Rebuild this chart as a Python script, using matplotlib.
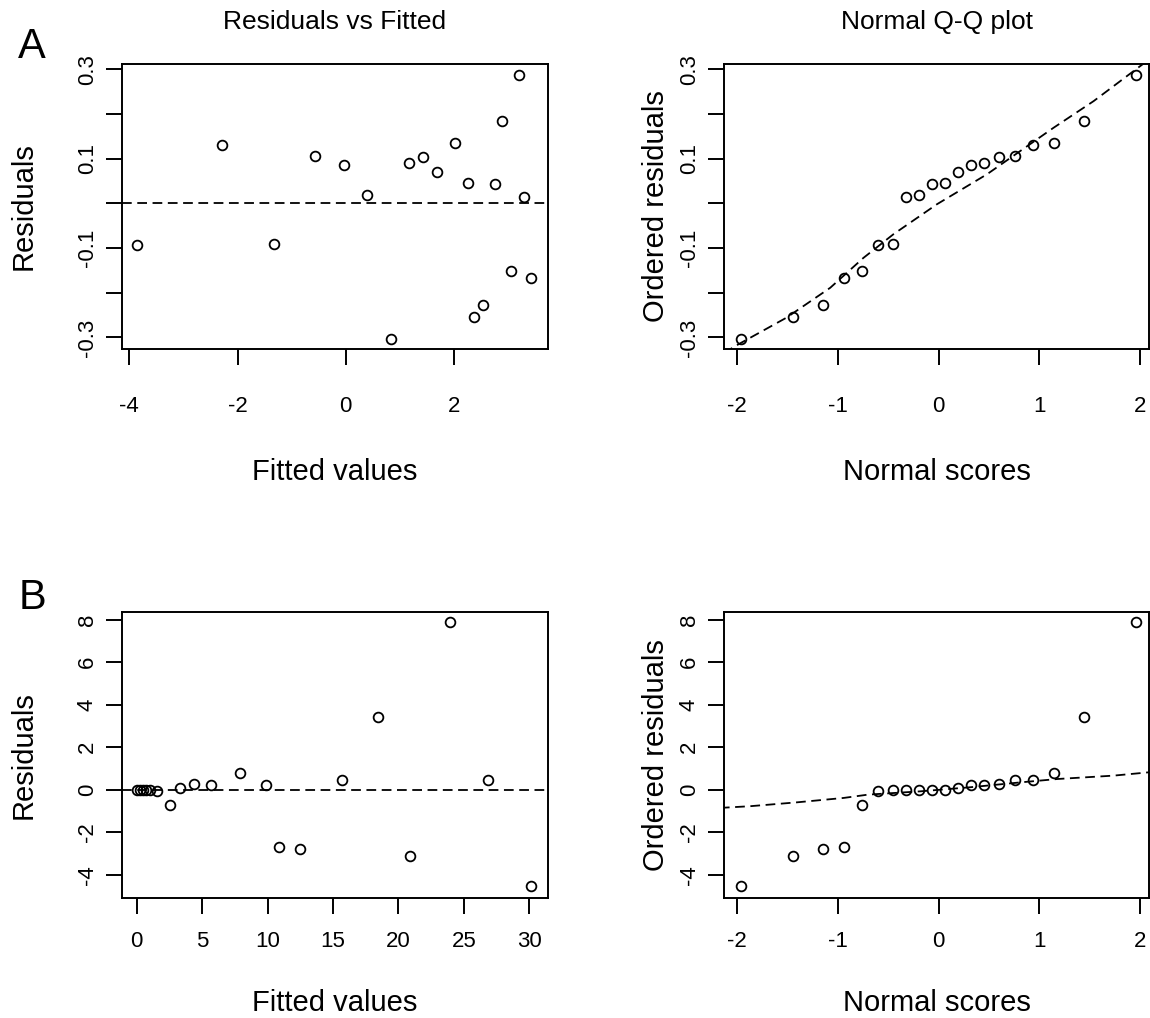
import matplotlib
matplotlib.use("Agg")
import matplotlib.pyplot as plt
import numpy as np

plt.rcParams["font.family"] = ["Liberation Sans", "DejaVu Sans"]
plt.rcParams["axes.unicode_minus"] = False
plt.rcParams["lines.scale_dashes"] = False

# panel A: residuals vs fitted
fitted_a = [-3.858, -2.287, -1.331, -0.562, -0.032, 0.399, 0.832, 1.164, 1.423, 1.693,
            2.026, 2.261, 2.366, 2.532, 2.760, 2.895, 3.061, 3.198, 3.296, 3.425]
resid_a = [-0.094, 0.130, -0.091, 0.107, 0.0865, 0.0186, -0.303, 0.091, 0.103, 0.0708,
           0.135, 0.046, -0.255, -0.228, 0.0425, 0.1835, -0.151, 0.288, 0.0141, -0.167]

# panel B: residuals vs fitted
fitted_b = [0.0, 0.25, 0.5, 0.75, 1.0, 1.58, 2.52, 3.31, 4.40, 5.68,
            7.87, 9.91, 10.9, 12.51, 15.72, 18.45, 20.92, 23.93, 26.83, 30.15]
resid_b = [0.0, 0.0, 0.0, 0.0, 0.0, -0.06, -0.74, 0.10, 0.27, 0.20,
           0.78, 0.20, -2.68, -2.78, 0.44, 3.40, -3.11, 7.89, 0.44, -4.55]

# normal scores for n = 20
normal_scores = [-1.960, -1.440, -1.150, -0.935, -0.755, -0.598, -0.454, -0.319, -0.189, -0.063,
                 0.063, 0.189, 0.319, 0.454, 0.598, 0.755, 0.935, 1.150, 1.440, 1.960]

# dashed reference curves on the Q-Q plots
ref_a_x = [-2.13, -1.99, -1.51, -1.075, -0.745, -0.447, -0.016, 0.48, 0.81, 1.14, 1.54, 2.0, 2.09]
ref_a_y = [-0.335, -0.316, -0.256, -0.189, -0.122, -0.069, -0.002, 0.065, 0.117, 0.169, 0.229, 0.307, 0.322]
ref_b_x = [-2.17, -1.87, -1.41, -0.94, -0.70, -0.18, 0.31, 0.81, 1.18, 1.74, 2.12]
ref_b_y = [-0.86, -0.78, -0.60, -0.39, -0.235, -0.08, 0.11, 0.34, 0.50, 0.66, 0.83]

W, H = 1150, 1018
fig = plt.figure(figsize=(W / 100, H / 100), dpi=100)


def box(l, t, r, b):
    return [l / W, 1 - b / H, (r - l) / W, (b - t) / H]


ax_a1 = fig.add_axes(box(122, 64, 548, 349))
ax_a2 = fig.add_axes(box(724, 64, 1149, 349))
ax_b1 = fig.add_axes(box(122, 612, 548, 898))
ax_b2 = fig.add_axes(box(724, 612, 1149, 898))

pt_style = dict(linestyle="none", marker="o", markersize=7, markerfacecolor="none",
                markeredgecolor="black", markeredgewidth=1.3)
dash_style = dict(color="black", linewidth=1.3, dashes=(7, 4))

ax_a1.plot(fitted_a, resid_a, **pt_style)
ax_a1.axhline(0, **dash_style)
ax_a2.plot(normal_scores, np.sort(resid_a), **pt_style)
ax_a2.plot(ref_a_x, ref_a_y, **dash_style)
ax_b1.plot(fitted_b, resid_b, **pt_style)
ax_b1.axhline(0, **dash_style)
ax_b2.plot(normal_scores, np.sort(resid_b), **pt_style)
ax_b2.plot(ref_b_x, ref_b_y, **dash_style)

a_yticks = [-0.3, -0.2, -0.1, 0.0, 0.1, 0.2, 0.3]
a_ylabels = ["-0.3", "", "-0.1", "", "0.1", "", "0.3"]
b_yticks = [-4, -2, 0, 2, 4, 6, 8]
b_ylabels = ["-4", "-2", "0", "2", "4", "6", "8"]
qq_xticks = [-2, -1, 0, 1, 2]

ax_a1.set_xlim(-4.135, 3.737)
ax_a1.set_xticks([-4, -2, 0, 2], ["-4", "-2", "0", "2"])
ax_b1.set_xlim(-1.12, 31.43)
ax_b1.set_xticks([0, 5, 10, 15, 20, 25, 30], ["0", "5", "10", "15", "20", "25", "30"])
for ax in (ax_a2, ax_b2):
    ax.set_xlim(-2.129, 2.089)
    ax.set_xticks(qq_xticks, [str(v) for v in qq_xticks])

for ax in (ax_a1, ax_a2):
    ax.set_ylim(-0.326, 0.312)
    ax.set_yticks(a_yticks, a_ylabels, rotation=90, va="center")
for ax in (ax_b1, ax_b2):
    ax.set_ylim(-5.10, 8.36)
    ax.set_yticks(b_yticks, b_ylabels, rotation=90, va="center")

for ax in (ax_a1, ax_a2, ax_b1, ax_b2):
    for sp in ax.spines.values():
        sp.set_linewidth(1.4)
    ax.tick_params(direction="out", length=11.5, width=1.4, labelsize=16)
    ax.tick_params(axis="y", pad=6)
for ax in (ax_a1, ax_a2):
    ax.tick_params(axis="x", pad=22)
for ax in (ax_b1, ax_b2):
    ax.tick_params(axis="x", pad=12)

lab = dict(fontsize=21)
ax_a1.set_xlabel("Fitted values", va="center", **lab)
ax_a1.xaxis.set_label_coords(0.5, -0.432)
ax_a2.set_xlabel("Normal scores", va="center", **lab)
ax_a2.xaxis.set_label_coords(0.5, -0.432)
ax_b1.set_xlabel("Fitted values", va="center", **lab)
ax_b1.xaxis.set_label_coords(0.5, -0.366)
ax_b2.set_xlabel("Normal scores", va="center", **lab)
ax_b2.xaxis.set_label_coords(0.5, -0.366)

ax_a1.set_ylabel("Residuals", va="center", **lab)
ax_a1.yaxis.set_label_coords(-0.232, 0.5)
ax_b1.set_ylabel("Residuals", va="center", **lab)
ax_b1.yaxis.set_label_coords(-0.232, 0.5)
ax_a2.set_ylabel("Ordered residuals", va="center", **lab)
ax_a2.yaxis.set_label_coords(-0.160, 0.5)
ax_b2.set_ylabel("Ordered residuals", va="center", **lab)
ax_b2.yaxis.set_label_coords(-0.160, 0.5)

fig.text(335 / W, 1 - 22 / H, "Residuals vs Fitted", fontsize=19, ha="center", va="center")
fig.text(937 / W, 1 - 22 / H, "Normal Q-Q plot", fontsize=19, ha="center", va="center")
fig.text(32 / W, 1 - 47 / H, "A", fontsize=30, ha="center", va="center")
fig.text(32 / W, 1 - 598 / H, "B", fontsize=30, ha="center", va="center")

fig.savefig("out.png", dpi=100, facecolor="white")
